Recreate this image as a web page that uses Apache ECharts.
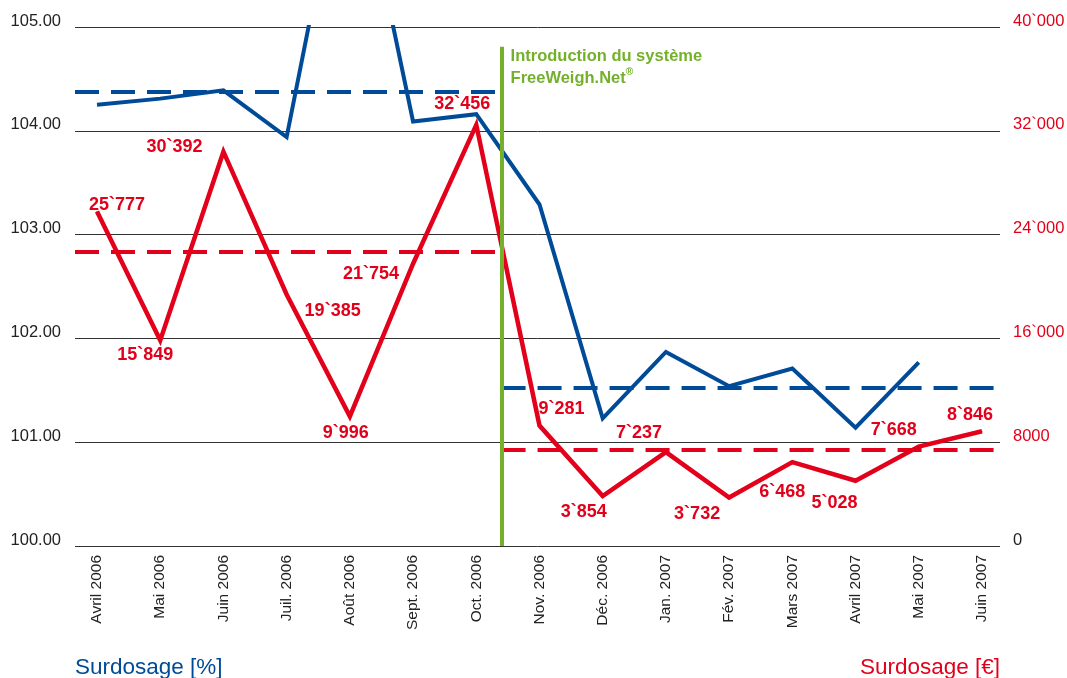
<!DOCTYPE html>
<html><head><meta charset="utf-8">
<script src="https://cdn.jsdelivr.net/npm/echarts@6/dist/echarts.min.js"></script>
<style>html,body{margin:0;padding:0;background:#fff}#c{width:1067px;height:678px}</style>
</head><body><div id="c"></div>
<script>
// ---- data ----
const categories = ['Avril 2006','Mai 2006','Juin 2006','Juil. 2006','Août 2006','Sept. 2006','Oct. 2006','Nov. 2006','Déc. 2006','Jan. 2007','Fév. 2007','Mars 2007','Avril 2007','Mai 2007','Juin 2007'];
const surdosagePct = [104.25,104.31,104.39,103.94,107.0,104.09,104.16,103.29,101.23,101.87,101.54,101.71,101.14,101.77,null];
const surdosageEur = [25777,15849,30392,19385,9996,21754,32456,9281,3854,7237,3732,6468,5028,7668,8846];
const pctTicks = [100,101,102,103,104,105];
const pctTickLabels = ['100.00','101.00','102.00','103.00','104.00','105.00'];
const eurTicks = [0,8000,16000,24000,32000,40000];
const eurTickLabels = ['0','8000','16`000','24`000','32`000','40`000'];
const pctAverages = [104.38, 101.52];   // before / after introduction
const eurAverages = [22700, 7400];      // before / after introduction
const introductionAt = 6.4;             // between Oct. and Nov. 2006
const introTop = 104.81;
const introText = ['Introduction du système', 'FreeWeigh.Net'];

// ---- styles / layout ----
const RED = '#e2001a', BLUE = '#004b97', GREEN = '#74b02c', INK = '#222';
const FONT = '"Liberation Sans", Arial, sans-serif';
const X_MIN = -0.348, X_MAX = 14.285;
const eurLabelOffsets = [[20,-7],[-15,15],[-49,-5],[46,17],[-4,17],[-42,10],[-14,-21],[22,-17],[-19,16],[-27,-19],[-32,16],[-10,30],[-21,22],[-25,-16],[-12,-16]];

function fmtEur(v){
  if (v < 1000) return String(v);
  const r = v % 1000;
  return Math.floor(v/1000) + '`' + String(r).padStart(3,'0');
}

const chart = echarts.init(document.getElementById('c'), null, {renderer:'canvas'});
const dash = [24,12];

chart.setOption({
  animation: false,
  backgroundColor: '#fff',
  title: [
    {text:'Surdosage [%]', left:75, top:656, padding:0, textStyle:{color:BLUE, fontSize:22.5, fontWeight:'normal', fontFamily:FONT}},
    {text:'Surdosage [€]', right:67, top:656, padding:0, textStyle:{color:RED, fontSize:22.5, fontWeight:'normal', fontFamily:FONT}}
  ],
  grid: {left:75, right:67, top:27, bottom:132, containLabel:false, outerBoundsMode:'none'},
  xAxis: {
    type:'value', min:X_MIN, max:X_MAX,
    axisLine:{show:false}, axisTick:{show:false}, splitLine:{show:false},
    axisLabel:{
      customValues: categories.map((c,i)=>i),
      formatter: v => categories[Math.round(v)],
      rotate:90, margin:9, color:INK, fontSize:15.5, fontFamily:FONT
    }
  },
  yAxis: [
    {
      type:'value', min:100, max:105, interval:1, position:'left',
      axisLine:{show:false}, axisTick:{show:false},
      splitLine:{show:true, lineStyle:{color:'#333', width:1}},
      axisLabel:{
        formatter: v => '{n|' + pctTickLabels[pctTicks.indexOf(Math.round(v))] + '}',
        color:INK, fontSize:16.5, margin:14, padding:[0,0,12,0], fontFamily:FONT,
        rich:{n:{color:INK, fontSize:16.5, fontFamily:FONT}}
      }
    },
    {
      type:'value', min:0, max:40000, interval:8000, position:'right',
      axisLine:{show:false}, axisTick:{show:false}, splitLine:{show:false},
      axisLabel:{
        formatter: v => { const t = eurTickLabels[eurTicks.indexOf(Math.round(v))]; return v === 0 ? '{k|' + t + '}' : t; },
        color:RED, fontSize:16.5, margin:13, padding:[0,0,12,0], fontFamily:FONT,
        rich:{k:{color:INK, fontSize:16.5, fontFamily:FONT}}
      }
    }
  ],
  series: [
    {
      type:'line', yAxisIndex:0, data:[], silent:true,
      markLine:{symbol:'none', silent:true, label:{show:false}, emphasis:{disabled:true},
        lineStyle:{color:BLUE, width:4, type:dash},
        data:[
          [{coord:[X_MIN, pctAverages[0]]},{coord:[introductionAt, pctAverages[0]]}],
          [{coord:[introductionAt, pctAverages[1]]},{coord:[X_MAX, pctAverages[1]]}]
        ]}
    },
    {
      type:'line', yAxisIndex:1, data:[], silent:true,
      markLine:{symbol:'none', silent:true, label:{show:false}, emphasis:{disabled:true},
        lineStyle:{color:RED, width:4, type:dash},
        data:[
          [{coord:[X_MIN, eurAverages[0]]},{coord:[introductionAt, eurAverages[0]]}],
          [{coord:[introductionAt, eurAverages[1]]},{coord:[X_MAX, eurAverages[1]]}]
        ]}
    },
    {
      name:'Surdosage [%]', type:'line', yAxisIndex:0, clip:true,
      data: surdosagePct.map((v,i)=> v == null ? null : [i, v]),
      symbol:'none', connectNulls:false,
      lineStyle:{color:BLUE, width:4, join:'miter'}, itemStyle:{color:BLUE},
      emphasis:{disabled:true}
    },
    {
      name:'Surdosage [€]', type:'line', yAxisIndex:1, clip:true,
      data: surdosageEur.map((v,i)=>({value:[i, v], label:{offset: eurLabelOffsets[i]}})),
      symbol:'circle', symbolSize:1, showSymbol:true,
      lineStyle:{color:RED, width:4.5, join:'miter'}, itemStyle:{color:RED},
      label:{show:true, position:'inside', formatter: p => fmtEur(p.value[1]),
        color:RED, fontWeight:'bold', fontSize:18, fontFamily:FONT},
      emphasis:{disabled:true}
    },
    {
      type:'line', yAxisIndex:0, data:[], silent:true,
      markLine:{symbol:'none', silent:true, label:{show:false}, emphasis:{disabled:true},
        lineStyle:{color:GREEN, width:4, type:'solid'},
        data:[[{coord:[introductionAt, 100]},{coord:[introductionAt, introTop]}]]},
      markPoint:{symbol:'circle', symbolSize:0, silent:true,
        data:[{coord:[introductionAt, introTop]}],
        label:{show:true, position:[9,-1], align:'left', verticalAlign:'top',
          formatter: introText[0] + '\n' + introText[1] + '{r|®}',
          color:GREEN, fontWeight:'bold', fontSize:16.5, lineHeight:22, fontFamily:FONT,
          rich:{r:{color:GREEN, fontWeight:'bold', fontSize:10, verticalAlign:'top', lineHeight:22, padding:[0,0,8,0]}}}}
    }
  ]
});
</script>
</body></html>
